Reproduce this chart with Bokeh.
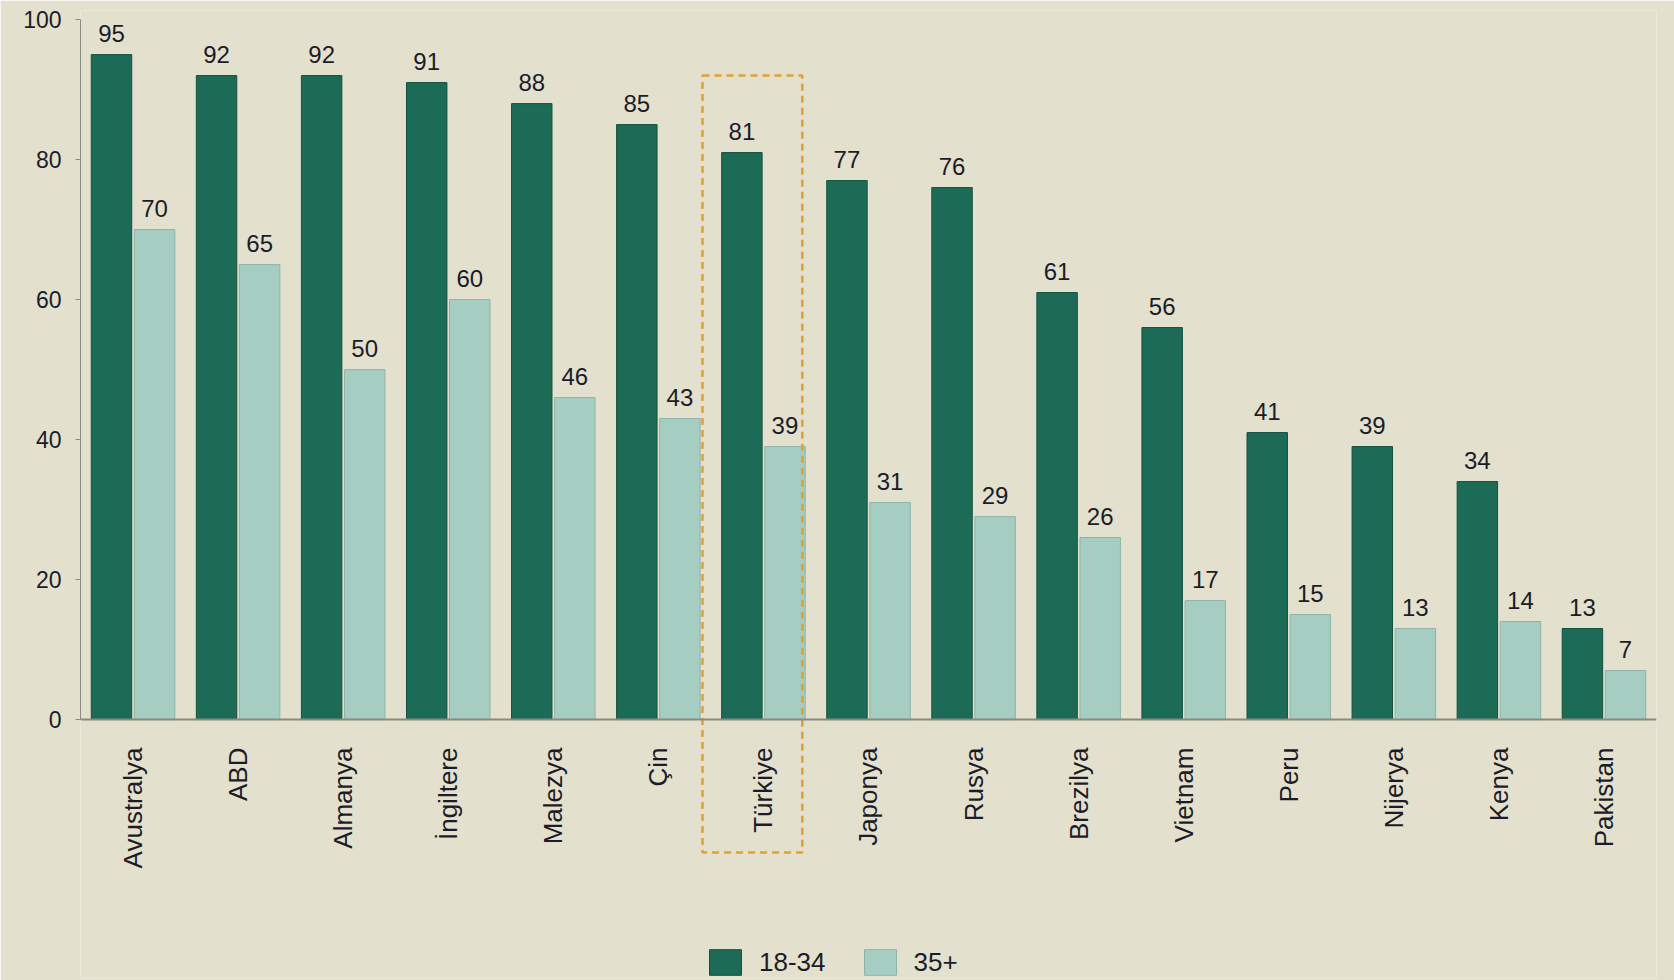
import math
from bokeh.plotting import figure
from bokeh.models import (ColumnDataSource, FactorRange, FixedTicker, LinearAxis,
                          CategoricalAxis, Legend, LegendItem, Range1d)
from bokeh.transform import dodge
from bokeh.embed import file_html
from bokeh.resources import INLINE
from bokeh.core.properties import value

countries = ["Avustralya", "ABD", "Almanya", "İngiltere", "Malezya", "Çin", "Türkiye",
             "Japonya", "Rusya", "Brezilya", "Vietnam", "Peru", "Nijerya", "Kenya", "Pakistan"]
young = [95, 92, 92, 91, 88, 85, 81, 77, 76, 61, 56, 41, 39, 34, 13]
older = [70, 65, 50, 60, 46, 43, 39, 31, 29, 26, 17, 15, 13, 14, 7]
series_names = ["18-34", "35+"]
y_ticks = [0, 20, 40, 60, 80, 100]
highlight = "Türkiye"

FONT = "Liberation Sans"
BG = "#e3e1cd"
DARK = "#1b6b56"
LIGHT = "#a6cdc2"
TXT = "#1c1c28"

src = ColumnDataSource(dict(
    country=countries, young=young, older=older,
    young_lbl=[str(v) for v in young], older_lbl=[str(v) for v in older],
))

p = figure(width=1674, height=980, output_backend="svg", toolbar_location=None,
           x_range=FactorRange(*countries, range_padding=0),
           y_range=Range1d(-37.0, 101.3),
           x_axis_location=None, y_axis_location=None,
           min_border_left=80, min_border_right=18, min_border_top=10, min_border_bottom=2)
p.background_fill_color = BG
p.border_fill_color = BG
p.outline_line_color = None
p.grid.visible = False

# y axis limited to 0..100
yax = LinearAxis(ticker=FixedTicker(ticks=y_ticks), bounds=(0, 100))
yax.axis_line_color = "#8a8a80"
yax.major_tick_line_color = "#8a8a80"
yax.major_tick_in = 0
yax.major_tick_out = 5
yax.minor_tick_line_color = None
yax.major_label_text_font = FONT
yax.major_label_text_font_size = "23px"
yax.major_label_text_color = TXT
yax.major_label_standoff = 14
p.add_layout(yax, "left")

# x axis placed at y=0 inside the frame
xax = CategoricalAxis(fixed_location=0)
xax.axis_line_color = "#8a8a80"
xax.axis_line_width = 2
xax.major_tick_line_color = None
xax.major_label_orientation = math.pi / 2
xax.major_label_text_font = FONT
xax.major_label_text_font_size = "26px"
xax.major_label_text_color = TXT
xax.major_label_standoff = 22
p.add_layout(xax, "below")

r1 = p.vbar(x=dodge("country", -0.205, range=p.x_range), top="young", width=0.385, bottom=0,
            source=src, fill_color=DARK, line_color="#14503f", line_width=1)
r2 = p.vbar(x=dodge("country", 0.205, range=p.x_range), top="older", width=0.385, bottom=0,
            source=src, fill_color=LIGHT, line_color="#8fb3a9", line_width=1)

p.text(x=dodge("country", -0.205, range=p.x_range), y="young", text="young_lbl", source=src,
       text_align="center", text_baseline="bottom", y_offset=-13,
       text_font=value(FONT), text_font_size="24px", text_color=TXT)
p.text(x=dodge("country", 0.205, range=p.x_range), y="older", text="older_lbl", source=src,
       text_align="center", text_baseline="bottom", y_offset=-13,
       text_font=value(FONT), text_font_size="24px", text_color=TXT)

# dashed highlight box around the highlighted country
hi_idx = countries.index(highlight)
hsrc = ColumnDataSource(dict(c=[highlight], top=[young[hi_idx] + 11], bottom=[-19]))
p.quad(left=dodge("c", -0.58, range=p.x_range), right=dodge("c", 0.37, range=p.x_range),
       top="top", bottom="bottom", source=hsrc, fill_alpha=0,
       line_color="#e0a035", line_width=2.5, line_dash="7 5")

legend = Legend(items=[LegendItem(label=series_names[0], renderers=[r1]),
                       LegendItem(label=series_names[1], renderers=[r2])],
                orientation="horizontal", location=(625, 0))
legend.background_fill_alpha = 0
legend.border_line_color = None
legend.padding = 0
legend.margin = 0
legend.spacing = 34
legend.glyph_width = 40
legend.glyph_height = 32
legend.label_standoff = 14
legend.label_text_font = FONT
legend.label_text_font_size = "26px"
legend.label_text_color = TXT
p.add_layout(legend, "center")

open("out.html", "w").write(file_html(p, INLINE))
